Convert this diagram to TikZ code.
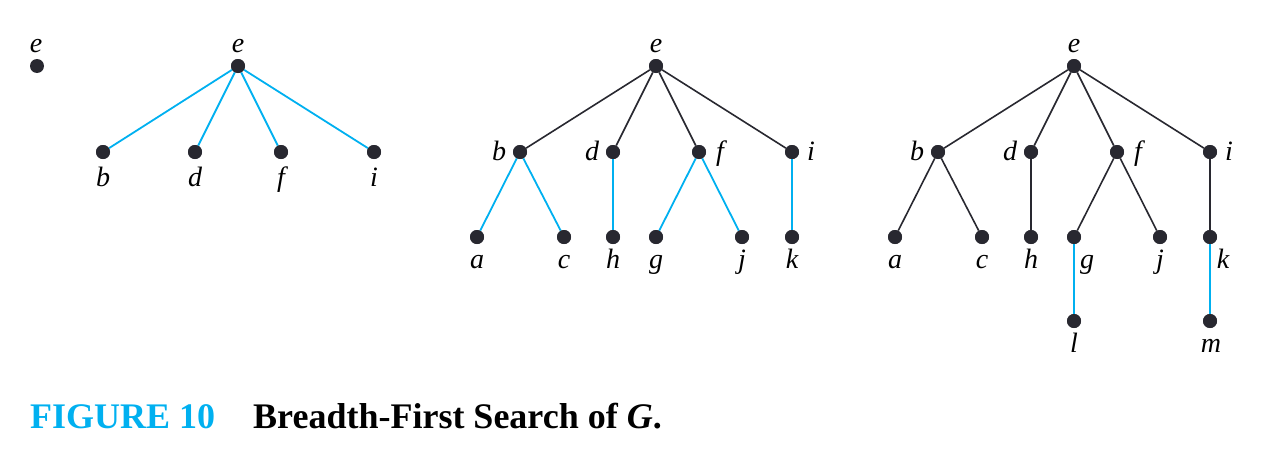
\documentclass[tikz,border=0pt]{standalone}
\usepackage{fontspec}
\setmainfont{Liberation Serif}
\definecolor{cy}{RGB}{0,176,240}
\definecolor{dk}{RGB}{40,40,48}
\begin{document}
\begin{tikzpicture}[x=1pt,y=-1pt,
  v/.style={circle,fill=dk,inner sep=0pt,minimum size=14pt},
  lab/.style={font=\fontsize{28}{28}\selectfont\itshape,inner sep=0pt,anchor=base},
  te/.style={line width=1.8pt,cy},
  oe/.style={line width=1.6pt,dk}]
\useasboundingbox (0,0) rectangle (1276,450);
% panel 1
\node[v] (p1e) at (37,66) {};
\node[lab] at (36,52) {e};
% panel 2
\node[v] (p2e) at (238,66) {};
\node[v] (p2b) at (103,152) {};
\node[v] (p2d) at (195,152) {};
\node[v] (p2f) at (281,152) {};
\node[v] (p2i) at (374,152) {};
\node[lab] at (238,52) {e};
\node[lab] at (103,186) {b};
\node[lab] at (195,186) {d};
\node[lab] at (281,186) {f};
\node[lab] at (374,186) {i};
\foreach \c in {b,d,f,i} \draw[te] (p2e) -- (p2\c);
% panel 3
\node[v] (p3e) at (656,66) {};
\node[v] (p3b) at (520,152) {};
\node[v] (p3d) at (613,152) {};
\node[v] (p3f) at (699,152) {};
\node[v] (p3i) at (792,152) {};
\node[v] (p3a) at (477,237) {};
\node[v] (p3c) at (564,237) {};
\node[v] (p3h) at (613,237) {};
\node[v] (p3g) at (656,237) {};
\node[v] (p3j) at (742,237) {};
\node[v] (p3k) at (792,237) {};
\node[lab] at (656,52) {e};
\node[lab] at (499,160) {b};
\node[lab] at (592,160) {d};
\node[lab] at (720,160) {f};
\node[lab] at (811,160) {i};
\node[lab] at (477,268) {a};
\node[lab] at (564,268) {c};
\node[lab] at (613,268) {h};
\node[lab] at (656,268) {g};
\node[lab] at (742,268) {j};
\node[lab] at (792,268) {k};
\foreach \c in {b,d,f,i} \draw[oe] (p3e) -- (p3\c);
\draw[te] (p3b) -- (p3a); \draw[te] (p3b) -- (p3c);
\draw[te] (p3d) -- (p3h);
\draw[te] (p3f) -- (p3g); \draw[te] (p3f) -- (p3j);
\draw[te] (p3i) -- (p3k);
% panel 4
\node[v] (p4e) at (1074,66) {};
\node[v] (p4b) at (938,152) {};
\node[v] (p4d) at (1031,152) {};
\node[v] (p4f) at (1117,152) {};
\node[v] (p4i) at (1210,152) {};
\node[v] (p4a) at (895,237) {};
\node[v] (p4c) at (982,237) {};
\node[v] (p4h) at (1031,237) {};
\node[v] (p4g) at (1074,237) {};
\node[v] (p4j) at (1160,237) {};
\node[v] (p4k) at (1210,237) {};
\node[v] (p4l) at (1074,321) {};
\node[v] (p4m) at (1210,321) {};
\node[lab] at (1074,52) {e};
\node[lab] at (917,160) {b};
\node[lab] at (1010,160) {d};
\node[lab] at (1138,160) {f};
\node[lab] at (1229,160) {i};
\node[lab] at (895,268) {a};
\node[lab] at (982,268) {c};
\node[lab] at (1031,268) {h};
\node[lab] at (1087,268) {g};
\node[lab] at (1160,268) {j};
\node[lab] at (1223,268) {k};
\node[lab] at (1074,352) {l};
\node[lab] at (1211,352) {m};
\foreach \c in {b,d,f,i} \draw[oe] (p4e) -- (p4\c);
\draw[oe] (p4b) -- (p4a); \draw[oe] (p4b) -- (p4c);
\draw[oe] (p4d) -- (p4h);
\draw[oe] (p4f) -- (p4g); \draw[oe] (p4f) -- (p4j);
\draw[oe] (p4i) -- (p4k);
\draw[te] (p4g) -- (p4l);
\draw[te] (p4k) -- (p4m);
% redraw dots on top
\foreach \n in {p2e,p2b,p2d,p2f,p2i,p3e,p3b,p3d,p3f,p3i,p3a,p3c,p3h,p3g,p3j,p3k,p4e,p4b,p4d,p4f,p4i,p4a,p4c,p4h,p4g,p4j,p4k,p4l,p4m}
  \fill[dk] (\n) circle (7pt);
% caption
\node[anchor=base west,inner sep=0pt,font=\fontsize{36}{36}\selectfont\bfseries,text=cy] (fig) at (30,428) {FIGURE 10};
\node[anchor=base west,inner sep=0pt,font=\fontsize{36}{36}\selectfont\bfseries] (cap) at (253,428) {Breadth-First Search of \textit{G}.};
\end{tikzpicture}
\end{document}
